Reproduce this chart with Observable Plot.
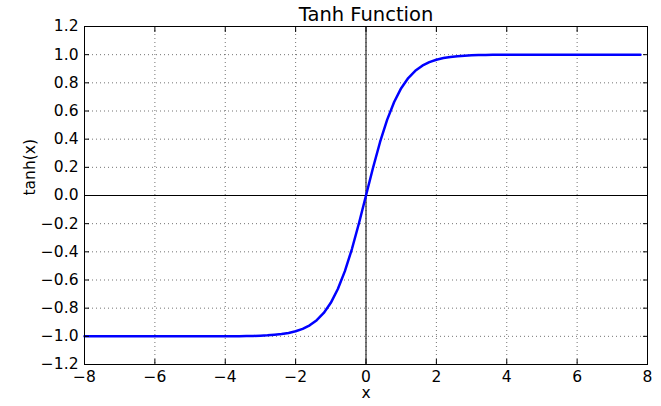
<!DOCTYPE html>
<html>
<head>
<meta charset="utf-8">
<script src="https://cdn.jsdelivr.net/npm/d3@7"></script>
<script src="https://cdn.jsdelivr.net/npm/@observablehq/plot@0.6"></script>
<style>
  html, body { margin: 0; padding: 0; background: #fff; }
  #chart svg { display: block; }
</style>
</head>
<body>
<div id="chart"></div>
<script>
const title = "Tanh Function";
const xLabel = "x";
const yLabel = "tanh(x)";
const xTicks = [-8, -6, -4, -2, 0, 2, 4, 6, 8];
const yTicks = [-1.2, -1.0, -0.8, -0.6, -0.4, -0.2, 0.0, 0.2, 0.4, 0.6, 0.8, 1.0, 1.2];

const xs = [
  -8.0, -7.8, -7.6, -7.4, -7.2, -7.0, -6.8, -6.6, -6.4, -6.2,
  -6.0, -5.8, -5.6, -5.4, -5.2, -5.0, -4.8, -4.6, -4.4, -4.2,
  -4.0, -3.8, -3.6, -3.4, -3.2, -3.0, -2.8, -2.6, -2.4, -2.2,
  -2.0, -1.8, -1.6, -1.4, -1.2, -1.0, -0.8, -0.6, -0.4, -0.2,
  0.0, 0.2, 0.4, 0.6, 0.8, 1.0, 1.2, 1.4, 1.6, 1.8,
  2.0, 2.2, 2.4, 2.6, 2.8, 3.0, 3.2, 3.4, 3.6, 3.8,
  4.0, 4.2, 4.4, 4.6, 4.8, 5.0, 5.2, 5.4, 5.6, 5.8,
  6.0, 6.2, 6.4, 6.6, 6.8, 7.0, 7.2, 7.4, 7.6, 7.8
];
const ys = [
  -1.000, -1.000, -1.000, -1.000, -1.000, -1.000, -1.000, -1.000, -1.000, -1.000,
  -1.000, -1.000, -1.000, -1.000, -1.000, -1.000, -1.000, -1.000, -1.000, -1.000,
  -0.999, -0.999, -0.999, -0.998, -0.997, -0.995, -0.993, -0.989, -0.984, -0.976,
  -0.964, -0.947, -0.922, -0.885, -0.834, -0.762, -0.664, -0.537, -0.380, -0.197,
  0.000, 0.197, 0.380, 0.537, 0.664, 0.762, 0.834, 0.885, 0.922, 0.947,
  0.964, 0.976, 0.984, 0.989, 0.993, 0.995, 0.997, 0.998, 0.999, 0.999,
  0.999, 1.000, 1.000, 1.000, 1.000, 1.000, 1.000, 1.000, 1.000, 1.000,
  1.000, 1.000, 1.000, 1.000, 1.000, 1.000, 1.000, 1.000, 1.000, 1.000
];

const data = xs.map((x, i) => ({x, y: ys[i]}));
const noLabel = () => "";

const chart = Plot.plot({
  width: 661,
  height: 406,
  marginLeft: 84,
  marginRight: 14,
  marginTop: 26,
  marginBottom: 42,
  style: {fontFamily: "DejaVu Sans", fontSize: "15px", color: "#000", background: "#fff"},
  x: {domain: [-8, 8]},
  y: {domain: [-1.2, 1.2]},
  marks: [
    Plot.gridX(xTicks, {stroke: "#000", strokeOpacity: 0.55, strokeDasharray: "1,3"}),
    Plot.gridY(yTicks, {stroke: "#000", strokeOpacity: 0.55, strokeDasharray: "1,3"}),
    Plot.ruleX([0], {stroke: "#000", strokeWidth: 1}),
    Plot.ruleY([0], {stroke: "#000", strokeWidth: 1}),
    Plot.line(data, {x: "x", y: "y", stroke: "#0000ff", strokeWidth: 2.5}),
    Plot.axisX(xTicks, {anchor: "bottom", tickSize: 0, tickPadding: 6, fontSize: 15.5, label: null}),
    Plot.axisX(xTicks, {anchor: "bottom", tickSize: -5, tickFormat: noLabel, label: null}),
    Plot.axisX(xTicks, {anchor: "top", tickSize: -5, tickFormat: noLabel, label: null}),
    Plot.axisY(yTicks, {anchor: "left", tickSize: 0, tickPadding: 6, fontSize: 15.5, tickFormat: d3.format(".1f"), label: null}),
    Plot.axisY(yTicks, {anchor: "left", tickSize: -5, tickFormat: noLabel, label: null}),
    Plot.axisY(yTicks, {anchor: "right", tickSize: -5, tickFormat: noLabel, label: null}),
    Plot.frame({stroke: "#000", strokeWidth: 1}),
    Plot.text([title], {frameAnchor: "top", lineAnchor: "middle", dy: -12, fontSize: 19.5, fill: "#000"}),
    Plot.text([xLabel], {frameAnchor: "bottom", lineAnchor: "middle", dy: 29, fontSize: 15.5, fill: "#000"}),
    Plot.text([yLabel], {frameAnchor: "left", lineAnchor: "middle", dx: -54, rotate: -90, fontSize: 15.5, fill: "#000"})
  ]
});
document.getElementById("chart").appendChild(chart);
</script>
</body>
</html>
